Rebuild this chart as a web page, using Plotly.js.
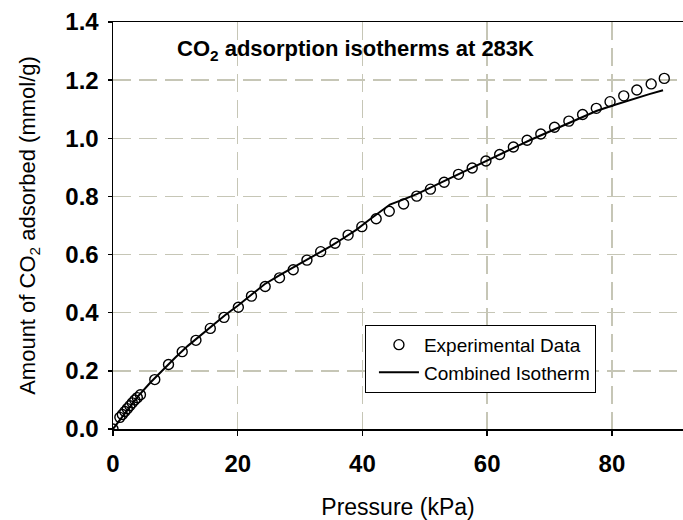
<!DOCTYPE html>
<html>
<head>
<meta charset="utf-8">
<script src="https://cdn.plot.ly/plotly-3.0.1.min.js"></script>
<style>
  html, body { margin: 0; padding: 0; background: #fff; }
  #chart { width: 683px; height: 520px; }
</style>
</head>
<body>
<div id="chart"></div>
<script>
// Measured CO2 uptake at 283 K (pressure in kPa, amount in mmol/g)
const expPressure = [0, 1.1, 1.5, 1.9, 2.3, 2.7, 3.1, 3.5, 3.9, 4.4, 6.7, 8.9, 11.1, 13.3, 15.6, 17.8,
  20.1, 22.2, 24.4, 26.7, 28.9, 31.1, 33.3, 35.6, 37.7, 39.9, 42.2, 44.3, 46.6, 48.7, 50.9,
  53.1, 55.4, 57.6, 59.8, 62.0, 64.2, 66.4, 68.6, 70.8, 73.1, 75.3, 77.5, 79.7, 81.9, 84.0, 86.3, 88.4];
const expAmount = [0.000, 0.040, 0.050, 0.060, 0.070, 0.080, 0.090, 0.100, 0.108, 0.118, 0.170, 0.222,
  0.266, 0.305, 0.346, 0.384, 0.419, 0.457, 0.490, 0.520, 0.548, 0.581, 0.610, 0.639, 0.667, 0.696,
  0.723, 0.749, 0.774, 0.801, 0.825, 0.849, 0.876, 0.898, 0.922, 0.944, 0.970, 0.993, 1.015, 1.038,
  1.059, 1.082, 1.103, 1.126, 1.146, 1.166, 1.187, 1.206];

// Combined isotherm model curve
const fitPressure = [0, 2, 4, 6, 8, 10, 12, 14, 16, 18, 20, 22, 24.3, 26.8, 28.9, 31.1, 33, 35, 37, 39,
  41, 42.8, 44.4, 46.6, 48.7, 50.9, 53, 55, 57, 59, 61, 63, 65, 67, 69, 71, 73, 75, 77.5, 80, 82, 84, 86, 88.2];
const fitAmount = [0, 0.058, 0.112, 0.160, 0.204, 0.246, 0.286, 0.322, 0.358, 0.392, 0.424, 0.458, 0.498,
  0.530, 0.555, 0.582, 0.605, 0.630, 0.657, 0.685, 0.718, 0.748, 0.772, 0.790, 0.808, 0.830, 0.852,
  0.873, 0.893, 0.914, 0.935, 0.955, 0.975, 0.995, 1.014, 1.033, 1.052, 1.070, 1.094, 1.112, 1.126,
  1.140, 1.152, 1.165];

const xTicks = [0, 20, 40, 60, 80];
const yTicks = [0.0, 0.2, 0.4, 0.6, 0.8, 1.0, 1.2, 1.4];
const yTickText = ['0.0', '0.2', '0.4', '0.6', '0.8', '1.0', '1.2', '1.4'];

const FONT = 'Liberation Sans, Arial, sans-serif';

const traces = [
  {
    x: expPressure, y: expAmount, name: 'Experimental Data',
    type: 'scatter', mode: 'markers',
    marker: { symbol: 'circle-open', size: 10, color: '#000', line: { width: 1.4, color: '#000' } }
  },
  {
    x: fitPressure, y: fitAmount, name: 'Combined Isotherm',
    type: 'scatter', mode: 'lines',
    line: { color: '#000', width: 2 }
  }
];

const gridStyle = { showgrid: true, gridcolor: '#c6c6b6', gridwidth: 1.5, griddash: '18px,8px' };

const layout = {
  width: 683, height: 520,
  margin: { l: 113, r: 0, t: 22, b: 91 },
  paper_bgcolor: '#fff', plot_bgcolor: '#fff',
  showlegend: true,
  legend: {
    x: 0.442, y: 0.256, xanchor: 'left', yanchor: 'top',
    bgcolor: '#fff', bordercolor: '#000', borderwidth: 1,
    font: { family: FONT, size: 19, color: '#000' },
    itemwidth: 40, tracegroupgap: 0, indentation: 8
  },
  xaxis: Object.assign({
    range: [0, 91.4], tickvals: xTicks, ticktext: xTicks.map(String),
    ticks: 'outside', ticklen: 5, tickcolor: '#000', tickwidth: 1.5, ticklabelstandoff: 8,
    showline: true, linecolor: '#000', linewidth: 1.5, mirror: true, zeroline: false,
    tickfont: { family: FONT, size: 24, color: '#000', weight: 'bold' },
    title: { text: 'Pressure (kPa)', font: { family: FONT, size: 23, color: '#000' }, standoff: 22 }
  }, gridStyle),
  yaxis: Object.assign({
    range: [0, 1.4], tickvals: yTicks, ticktext: yTickText,
    ticks: 'outside', ticklen: 4, tickcolor: '#000', tickwidth: 1.5, ticklabelstandoff: 4,
    showline: true, linecolor: '#000', linewidth: 1.5, mirror: false, zeroline: false,
    tickfont: { family: FONT, size: 24, color: '#000', weight: 'bold' },
    title: { text: 'Amount of CO<sub>2</sub> adsorbed (mmol/g)', font: { family: FONT, size: 22, color: '#000' }, standoff: 23 }
  }, gridStyle),
  annotations: [{
    xref: 'paper', yref: 'paper', x: 0.425, y: 0.931, xanchor: 'center', yanchor: 'middle',
    text: '<b>CO<sub>2</sub> adsorption isotherms at 283K</b>', showarrow: false,
    font: { family: FONT, size: 22, color: '#000' }
  }]
};

Plotly.newPlot('chart', traces, layout, { displayModeBar: false, staticPlot: true });
</script>
</body>
</html>
